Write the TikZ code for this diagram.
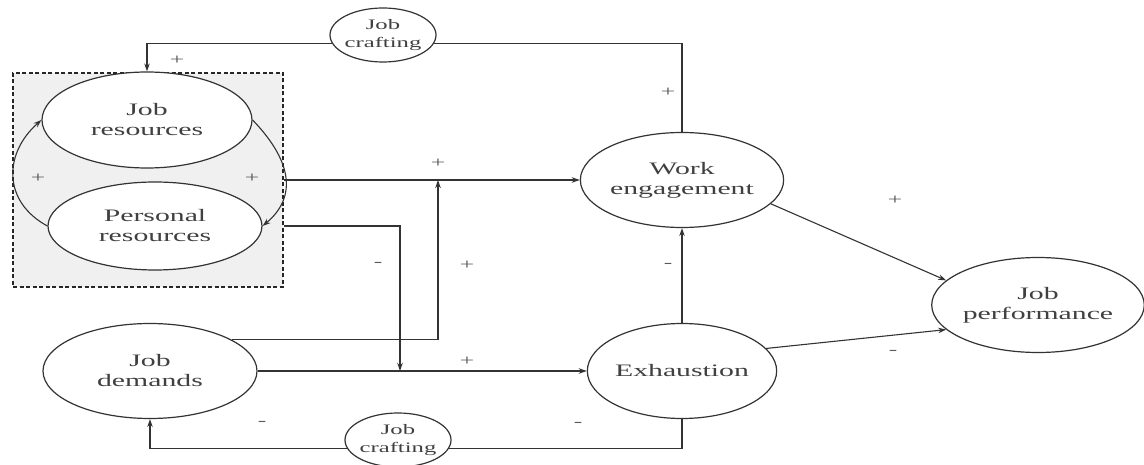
\documentclass[tikz,border=0pt]{standalone}
\usepackage{fontspec}
\setmainfont{Liberation Serif}[FakeStretch=1.7]
\usepackage{tikz}
\usetikzlibrary{arrows.meta, positioning, fit, calc, shapes.geometric}

\begin{document}
\begin{tikzpicture}[
    x=1pt, y=1pt,
    font=\fontsize{17.5}{20}\selectfont,
    >={Stealth[length=8pt,width=5.5pt]},
    construct/.style={draw=black!80, line width=1.2pt, ellipse,
                      fill=white, align=center, inner sep=0pt,
                      text=black!75},
    crafting/.style={construct, inner xsep=-12pt,
                     font=\fontsize{14.5}{18}\selectfont,
                     minimum width=106pt, minimum height=54pt},
    groupbox/.style={draw=black!85, line width=1.4pt,
                     dash pattern=on 4pt off 2.5pt, fill=black!6},
    flow/.style={->, line width=1.1pt, draw=black!80},
    link/.style={line width=1.1pt, draw=black!80},
    sign/.style={font=\fontsize{15}{15}\selectfont, text=black!65, inner sep=0pt}
  ]
  \useasboundingbox (0,0) rectangle (1144,464);

  % ===== RESOURCES GROUP =====
  \node[groupbox, minimum width=270pt, minimum height=214pt] (resbox) at (148,284) {};
  \node[construct, minimum width=210pt, minimum height=96pt] (jobres) at (147,344) {Job\\resources};
  \node[construct, minimum width=214pt, minimum height=88pt] (persres) at (155,238) {Personal\\resources};

  % mutual influence between the two resources
  \draw[flow] (jobres.east) .. controls (295,300) and (295,265) .. (persres.east);
  \draw[flow] (persres.west) .. controls (3,262) and (3,310) .. (jobres.west);
  \node[sign] (plusL) at (38,286) {+};
  \node[sign] (plusR) at (252,286) {+};

  % ===== OTHER CONSTRUCTS =====
  \node[construct, minimum width=214pt, minimum height=95pt] (jobdem) at (150,93) {Job\\demands};
  \node[construct, minimum width=186pt, minimum height=95pt] (workeng) at (682,284) {Work\\engagement};
  \node[construct, minimum width=186pt, minimum height=95pt] (exh) at (682,93) {Exhaustion};
  \node[construct, minimum width=206pt, minimum height=95pt] (jobperf) at (1038,159) {Job\\performance};
  \node[crafting] (craftTop) at (383,429) {Job\\crafting};
  \node[crafting] (craftBot) at (398,24) {Job\\crafting};

  % ===== MAIN PATHS =====
  \coordinate (modUp) at (438,284);
  \coordinate (modDown) at (400,93);
  \draw[flow] (resbox.east) -- (workeng.west);
  \draw[flow] (resbox.east |- persres.east) -| (modDown);
  \draw[flow] (jobdem.21) -| (modUp);
  \draw[flow] (jobdem.east) -- (exh.west);
  \draw[flow] (exh.north) -- (workeng.south);
  \draw[flow] (workeng.345) -- (jobperf.165);
  \draw[flow] (exh.15) -- (jobperf.195);

  % ===== FEEDBACK LOOPS (job crafting) =====
  \draw[link] (workeng.north) |- (craftTop.350);
  \draw[flow] (craftTop.190) -| (jobres.north);
  \draw[link] (exh.south) |- (craftBot.350);
  \draw[flow] (craftBot.190) -| (jobdem.south);

  % ===== SIGNS =====
  \node[sign] (plusCraftIn) at (177,404) {+};
  \node[sign] (plusCraftOut) at (668,372) {+};
  \node[sign] (plusRes) at (438,301) {+};
  \node[sign] (minusPers) at (378,200) {-};
  \node[sign] (plusDemUp) at (467,199) {+};
  \node[sign] (minusExhWork) at (668,199) {-};
  \node[sign] (plusDemExh) at (467,103) {+};
  \node[sign] (plusPerf) at (895,264) {+};
  \node[sign] (minusPerf) at (893,112) {-};
  \node[sign] (minusCraftIn) at (262,41) {-};
  \node[sign] (minusCraftOut) at (578,40) {-};

\end{tikzpicture}
\end{document}
